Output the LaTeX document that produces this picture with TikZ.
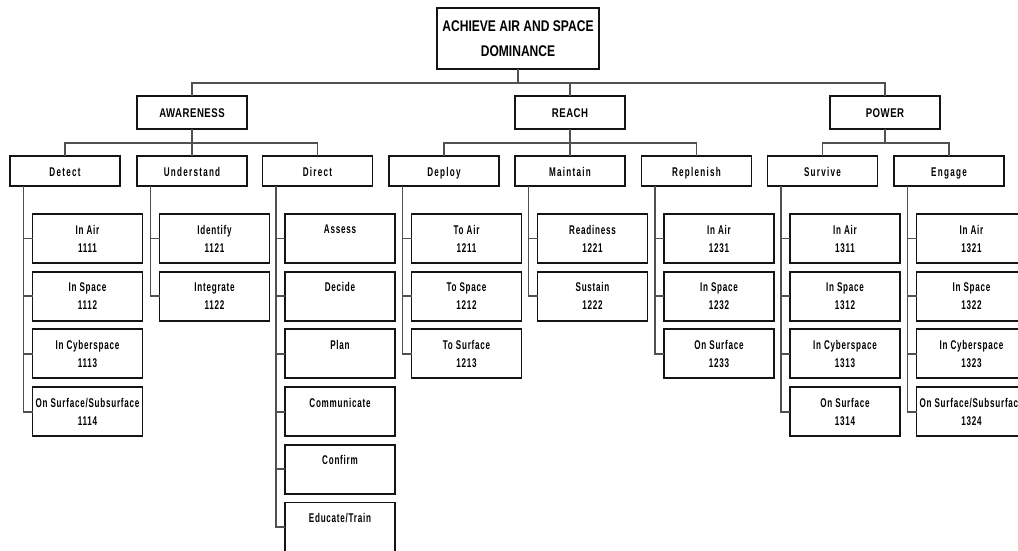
\documentclass[tikz,border=0pt]{standalone}
\usepackage{fontspec}
\setmainfont{Liberation Sans}
\newfontfamily\rootfnt{Liberation Sans}[FakeStretch=0.78]
\newfontfamily\areafnt{Liberation Sans}[FakeStretch=0.76,LetterSpace=4]
\newfontfamily\taskfnt{Liberation Sans}[FakeStretch=0.64,LetterSpace=10]
\newfontfamily\leaffnt{Liberation Sans}[FakeStretch=0.64,LetterSpace=6]
\usetikzlibrary{positioning}
\definecolor{boxline}{RGB}{20,20,20}
\definecolor{linkgray}{RGB}{80,80,80}

\begin{document}
\begin{tikzpicture}[
  box/.style={draw=boxline, line width=1.35pt, outer sep=0pt, inner sep=1pt,
              align=center, fill=white},
  goal/.style={box, minimum width=4.05cm, minimum height=1.525cm,
               font=\rootfnt\bfseries\fontsize{11}{18}\selectfont},
  area/.style={box, minimum width=2.75cm, minimum height=0.825cm,
               text height=1.6ex, text depth=0.2ex,
               font=\areafnt\bfseries\fontsize{9}{11}\selectfont},
  task/.style={box, minimum width=2.75cm, minimum height=0.75cm,
               text height=1.6ex, text depth=0.2ex,
               font=\taskfnt\bfseries\fontsize{9}{11}\selectfont},
  leaf/.style={box, minimum width=2.75cm, minimum height=1.225cm,
               font=\leaffnt\bfseries\fontsize{9}{12.8}\selectfont},
  link/.style={draw=linkgray, line width=1.35pt}]
\useasboundingbox (0,0) rectangle (25.45,-13.775);

% top goal and the three areas
\node[goal] (ach) at (12.95,-0.9625) {ACHIEVE AIR AND SPACE\\DOMINANCE};
\node[area] (aw) at (4.8,-2.8125) {AWARENESS};
\node[area] (re) at (14.25,-2.8125) {REACH};
\node[area] (po) at (22.125,-2.8125) {POWER};

% tasks
\node[task] (det) at (1.625,-4.275) {Detect};
\node[task] (und) at (4.8,-4.275) {Understand};
\node[task] (dir) at (7.9375,-4.275) {Direct};
\node[task] (dep) at (11.1,-4.275) {Deploy};
\node[task] (mnt) at (14.25,-4.275) {Maintain};
\node[task] (rep) at (17.4125,-4.275) {Replenish};
\node[task] (sur) at (20.5625,-4.275) {Survive};
\node[task] (eng) at (23.725,-4.275) {Engage};

% Detect
\node[leaf, below right=0.7cm and 0.5625cm of det.south west] (det1) {In Air\\1111};
\node[leaf, below=0.2175cm of det1] (det2) {In Space\\1112};
\node[leaf, below=0.2175cm of det2] (det3) {In Cyberspace\\1113};
\node[leaf, below=0.2175cm of det3] (det4) {On Surface/Subsurface\\1114};
% Understand
\node[leaf, below right=0.7cm and 0.5625cm of und.south west] (und1) {Identify\\1121};
\node[leaf, below=0.2175cm of und1] (und2) {Integrate\\1122};
% Direct
\node[leaf, below right=0.7cm and 0.5625cm of dir.south west] (dir1) {Assess\\\phantom{1}};
\node[leaf, below=0.2175cm of dir1] (dir2) {Decide\\\phantom{1}};
\node[leaf, below=0.2175cm of dir2] (dir3) {Plan\\\phantom{1}};
\node[leaf, below=0.2175cm of dir3] (dir4) {Communicate\\\phantom{1}};
\node[leaf, below=0.2175cm of dir4] (dir5) {Confirm\\\phantom{1}};
\node[leaf, below=0.2175cm of dir5] (dir6) {Educate/Train\\\phantom{1}};
% Deploy
\node[leaf, below right=0.7cm and 0.5625cm of dep.south west] (dep1) {To Air\\1211};
\node[leaf, below=0.2175cm of dep1] (dep2) {To Space\\1212};
\node[leaf, below=0.2175cm of dep2] (dep3) {To Surface\\1213};
% Maintain
\node[leaf, below right=0.7cm and 0.5625cm of mnt.south west] (mnt1) {Readiness\\1221};
\node[leaf, below=0.2175cm of mnt1] (mnt2) {Sustain\\1222};
% Replenish
\node[leaf, below right=0.7cm and 0.5625cm of rep.south west] (rep1) {In Air\\1231};
\node[leaf, below=0.2175cm of rep1] (rep2) {In Space\\1232};
\node[leaf, below=0.2175cm of rep2] (rep3) {On Surface\\1233};
% Survive
\node[leaf, below right=0.7cm and 0.5625cm of sur.south west] (sur1) {In Air\\1311};
\node[leaf, below=0.2175cm of sur1] (sur2) {In Space\\1312};
\node[leaf, below=0.2175cm of sur2] (sur3) {In Cyberspace\\1313};
\node[leaf, below=0.2175cm of sur3] (sur4) {On Surface\\1314};
% Engage
\node[leaf, below right=0.7cm and 0.5625cm of eng.south west] (eng1) {In Air\\1321};
\node[leaf, below=0.2175cm of eng1] (eng2) {In Space\\1322};
\node[leaf, below=0.2175cm of eng2] (eng3) {In Cyberspace\\1323};
\node[leaf, below=0.2175cm of eng3] (eng4) {On Surface/Subsurface\\1324};

% tree links
\draw[link] (ach.south) -- ++(0,-0.35) -| (aw.north);
\draw[link] (ach.south) -- ++(0,-0.35) -| (re.north);
\draw[link] (ach.south) -- ++(0,-0.35) -| (po.north);
\draw[link] (aw.south) -- ++(0,-0.35) -| (det.north);
\draw[link] (aw.south) -- ++(0,-0.35) -| (und.north);
\draw[link] (aw.south) -- ++(0,-0.35) -| (dir.north);
\draw[link] (re.south) -- ++(0,-0.35) -| (dep.north);
\draw[link] (re.south) -- ++(0,-0.35) -| (mnt.north);
\draw[link] (re.south) -- ++(0,-0.35) -| (rep.north);
\draw[link] (po.south) -- ++(0,-0.35) -| (sur.north);
\draw[link] (po.south) -- ++(0,-0.35) -| (eng.north);

\draw[link] ([xshift=-1.0375cm]det.south) |- (det1.west)
  ([xshift=-1.0375cm]det.south) |- (det2.west)
  ([xshift=-1.0375cm]det.south) |- (det3.west)
  ([xshift=-1.0375cm]det.south) |- (det4.west);
\draw[link] ([xshift=-1.0375cm]und.south) |- (und1.west)
  ([xshift=-1.0375cm]und.south) |- (und2.west);
\draw[link] ([xshift=-1.0375cm]dir.south) |- (dir1.west)
  ([xshift=-1.0375cm]dir.south) |- (dir2.west)
  ([xshift=-1.0375cm]dir.south) |- (dir3.west)
  ([xshift=-1.0375cm]dir.south) |- (dir4.west)
  ([xshift=-1.0375cm]dir.south) |- (dir5.west)
  ([xshift=-1.0375cm]dir.south) |- (dir6.west);
\draw[link] ([xshift=-1.0375cm]dep.south) |- (dep1.west)
  ([xshift=-1.0375cm]dep.south) |- (dep2.west)
  ([xshift=-1.0375cm]dep.south) |- (dep3.west);
\draw[link] ([xshift=-1.0375cm]mnt.south) |- (mnt1.west)
  ([xshift=-1.0375cm]mnt.south) |- (mnt2.west);
\draw[link] ([xshift=-1.0375cm]rep.south) |- (rep1.west)
  ([xshift=-1.0375cm]rep.south) |- (rep2.west)
  ([xshift=-1.0375cm]rep.south) |- (rep3.west);
\draw[link] ([xshift=-1.0375cm]sur.south) |- (sur1.west)
  ([xshift=-1.0375cm]sur.south) |- (sur2.west)
  ([xshift=-1.0375cm]sur.south) |- (sur3.west)
  ([xshift=-1.0375cm]sur.south) |- (sur4.west);
\draw[link] ([xshift=-1.0375cm]eng.south) |- (eng1.west)
  ([xshift=-1.0375cm]eng.south) |- (eng2.west)
  ([xshift=-1.0375cm]eng.south) |- (eng3.west)
  ([xshift=-1.0375cm]eng.south) |- (eng4.west);
\end{tikzpicture}
\end{document}
